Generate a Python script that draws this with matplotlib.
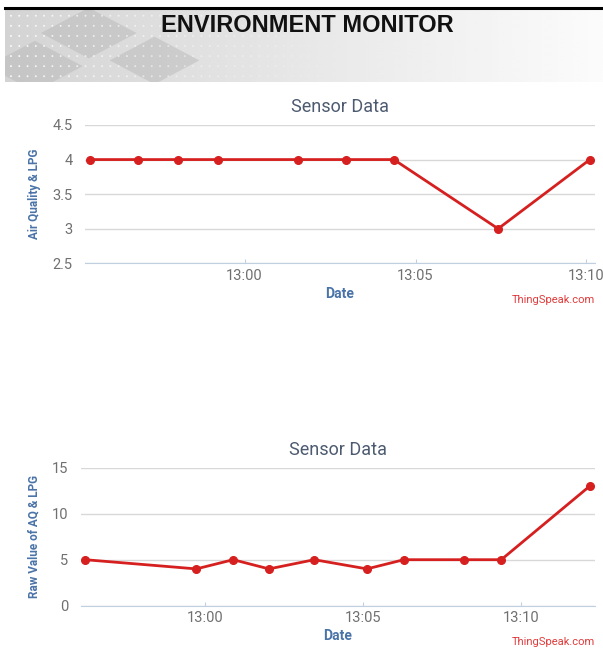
import numpy as np
import pandas as pd
import matplotlib
matplotlib.use("Agg")
import matplotlib.pyplot as plt
import matplotlib.dates as mdates
from matplotlib.lines import Line2D
from matplotlib.patches import Polygon

# data
aq_times = ["12:55:29", "12:56:53", "12:58:03", "12:59:13", "13:01:34",
            "13:02:58", "13:04:22", "13:07:25", "13:10:06"]
aq_values = [4, 4, 4, 4, 4, 4, 4, 3, 4]

raw_times = ["12:56:13", "12:59:44", "13:00:54", "13:02:02", "13:03:28",
             "13:05:08", "13:06:18", "13:08:12", "13:09:23", "13:12:11"]
raw_values = [5, 4, 5, 4, 5, 4, 5, 5, 5, 13]

aq_xlim = ("12:55:20", "13:10:15")
raw_xlim = ("12:56:05", "13:12:21")

header = "ENVIRONMENT MONITOR"
chart_title = "Sensor Data"
x_label = "Date"
y_labels = ["Air Quality & LPG", "Raw Value of AQ & LPG"]
aq_ticks = [2.5, 3, 3.5, 4, 4.5]
raw_ticks = [0, 5, 10, 15]


def to_dt(s):
    return pd.to_datetime("2019-01-01 " + s)


red = "#d62020"
blue = "#4a73a8"
tick_gray = "#707070"
roboto = ["Roboto", "DejaVu Sans"]

fig = plt.figure(figsize=(6.03, 6.66), dpi=100)

# ---- header banner
bn = fig.add_axes([5 / 603, 1 - 82 / 666, 598 / 603, 72 / 666])
grad = np.linspace(0.83, 0.985, 300)
grad = np.tile(grad, (40, 1))
bn.imshow(grad, cmap="gray", vmin=0, vmax=1, aspect="auto",
          extent=[0, 1, 0, 1], interpolation="bicubic")
for cx, cy, r in [(0.14, 0.68, 0.16), (0.05, 0.22, 0.16), (0.25, 0.30, 0.15)]:
    bn.add_patch(Polygon([[cx - r * 0.5, cy], [cx, cy + r * 2.2],
                          [cx + r * 0.5, cy], [cx, cy - r * 2.2]],
                         closed=True, color="#b5b5b5", alpha=0.45, lw=0))
gx, gy = np.meshgrid(np.linspace(0.01, 0.55, 40), np.linspace(0.08, 0.92, 7))
fade = np.clip(1 - gx / 0.55, 0, 1)
bn.scatter(gx.ravel(), gy.ravel(), s=2, color="white",
           alpha=0.8 * fade.ravel() + 0.1, lw=0)
bn.set_xlim(0, 1)
bn.set_ylim(0, 1)
bn.axis("off")
bn.text(0.505, 0.70, header, ha="center", va="baseline", fontsize=17,
        fontweight="bold", color="#111111", family=["Liberation Sans", "DejaVu Sans"])
fig.add_artist(Line2D([5 / 603, 1], [1 - 8 / 666] * 2, color="black", lw=2.2))


def style_chart(ax, times, values, xlim, ticks, ylabel):
    t = [to_dt(s) for s in times]
    ax.plot(t, values, color=red, lw=2, marker="o", ms=5.5, mec=red, mfc=red)
    ax.set_xlim(to_dt(xlim[0]), to_dt(xlim[1]))
    ax.set_ylim(ticks[0], ticks[-1])
    ax.set_yticks(ticks)
    ax.set_yticklabels([f"{v:g}" for v in ticks])
    ax.xaxis.set_major_locator(mdates.MinuteLocator(byminute=range(0, 60, 5)))
    ax.xaxis.set_major_formatter(mdates.DateFormatter("%H:%M"))
    ax.grid(axis="y", color="#d8d8d8", lw=1)
    ax.set_axisbelow(True)
    for sp in ["top", "right", "left"]:
        ax.spines[sp].set_visible(False)
    ax.spines["bottom"].set_color("#c0d0e0")
    ax.tick_params(axis="y", length=0, pad=9, labelsize=10.5, labelcolor=tick_gray)
    ax.tick_params(axis="x", length=3, direction="in", color="#c0d0e0", pad=4,
                   labelsize=10.5, labelcolor=tick_gray)
    for lab in ax.get_xticklabels() + ax.get_yticklabels():
        lab.set_family(roboto)
    ax.set_title(chart_title, fontsize=13, color="#4d5b70", pad=9, family=roboto)
    ax.set_xlabel(x_label, fontsize=10, fontweight="bold", color=blue, labelpad=3,
                  family=roboto)
    ax.set_ylabel(ylabel, fontsize=8.5, fontweight="bold", color=blue, labelpad=8,
                  family=roboto)
    ax.text(1.0, -0.265, "ThingSpeak.com", transform=ax.transAxes, ha="right",
            va="center", fontsize=8, color="#e03a3a", family=roboto)


ax1 = fig.add_axes([85 / 603, 1 - 263.3 / 666, 510 / 603, 138.3 / 666])
style_chart(ax1, aq_times, aq_values, aq_xlim, aq_ticks, y_labels[0])

ax2 = fig.add_axes([81 / 603, 1 - 605.7 / 666, 514 / 603, 138 / 666])
style_chart(ax2, raw_times, raw_values, raw_xlim, raw_ticks, y_labels[1])

fig.savefig("out.png", dpi=100)
